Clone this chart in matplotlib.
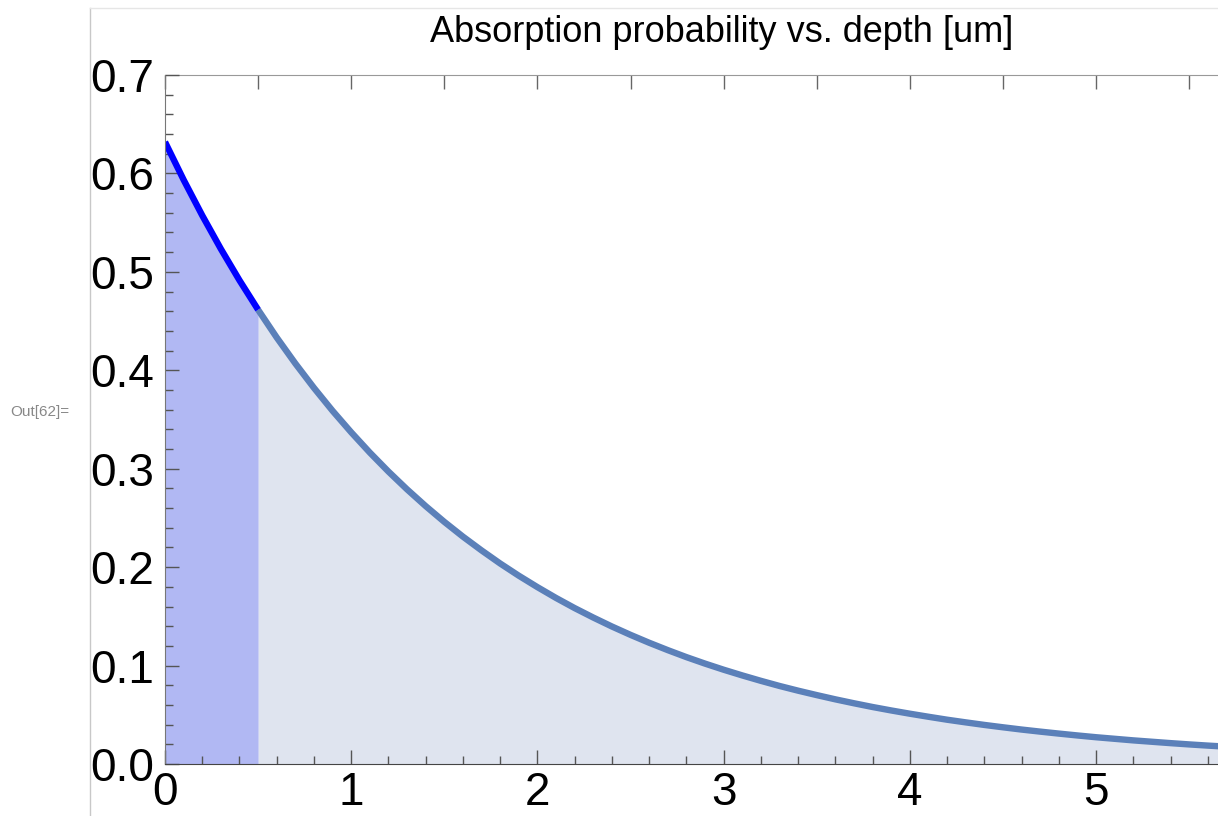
import matplotlib
matplotlib.use("Agg")
import matplotlib.pyplot as plt
import numpy as np
from matplotlib.lines import Line2D
from matplotlib.ticker import MultipleLocator

plt.rcParams["font.family"] = ["Liberation Sans", "DejaVu Sans"]

# values (depth in um, absorption probability)
depth = [0.0, 0.1, 0.2, 0.3, 0.4, 0.5, 0.6, 0.7, 0.8, 0.9,
         1.0, 1.1, 1.2, 1.3, 1.4, 1.5, 1.6, 1.7, 1.8, 1.9,
         2.0, 2.1, 2.2, 2.3, 2.4, 2.5, 2.6, 2.7, 2.8, 2.9,
         3.0, 3.1, 3.2, 3.3, 3.4, 3.5, 3.6, 3.7, 3.8, 3.9,
         4.0, 4.1, 4.2, 4.3, 4.4, 4.5, 4.6, 4.7, 4.8, 4.9,
         5.0, 5.1, 5.2, 5.3, 5.4, 5.5, 5.6, 5.7]
prob = [0.6320, 0.5935, 0.5573, 0.5233, 0.4914, 0.4615, 0.4333, 0.4069,
        0.3821, 0.3588, 0.3370, 0.3164, 0.2971, 0.2790, 0.2620, 0.2460,
        0.2310, 0.2170, 0.2037, 0.1913, 0.1797, 0.1687, 0.1584, 0.1488,
        0.1397, 0.1312, 0.1232, 0.1157, 0.1086, 0.1020, 0.0958, 0.0900,
        0.0845, 0.0793, 0.0745, 0.0700, 0.0657, 0.0617, 0.0579, 0.0544,
        0.0511, 0.0480, 0.0450, 0.0423, 0.0397, 0.0373, 0.0350, 0.0329,
        0.0309, 0.0290, 0.0272, 0.0256, 0.0240, 0.0226, 0.0212, 0.0199,
        0.0187, 0.0176]
cut_depth = 0.5
title = "Absorption probability vs. depth [um]"

W, H = 1218, 816
x = np.asarray(depth)
y = np.asarray(prob)
near = x <= cut_depth
far = x >= cut_depth

fig = plt.figure(figsize=(W / 100, H / 100), dpi=100)
ax = fig.add_axes([165 / W, 1 - 764 / H, (W - 165) / W, (764 - 75) / H])

ax.fill_between(x[far], 0, y[far], color="#dfe4ef", lw=0)
ax.fill_between(x[near], 0, y[near], color="#b1b8f3", lw=0)
ax.plot(x[far], y[far], color="#5b80b9", lw=4.6, solid_capstyle="butt",
        solid_joinstyle="round")
ax.plot(x[near], y[near], color="#0000ff", lw=4.6, solid_capstyle="butt",
        solid_joinstyle="round")

ax.set_xlim(0, 5.655)
ax.set_ylim(0, 0.7)
ax.xaxis.set_major_locator(MultipleLocator(1))
ax.xaxis.set_minor_locator(MultipleLocator(0.2))
ax.yaxis.set_major_locator(MultipleLocator(0.1))
ax.yaxis.set_minor_locator(MultipleLocator(0.02))
ax.xaxis.set_major_formatter(lambda v, p: f"{v:.0f}")
ax.yaxis.set_major_formatter(lambda v, p: f"{v:.1f}")

ax.tick_params(which="both", direction="in", labelsize=33, colors="#555555",
               labelcolor="black", width=1)
ax.tick_params(which="major", length=10)
ax.tick_params(which="minor", length=6)
ax.tick_params(axis="y", pad=8)
ax.tick_params(axis="x", pad=5)
ax.spines["right"].set_visible(False)
ax.spines["top"].set_visible(False)
ax.spines["left"].set_color("#777777")
ax.spines["bottom"].set_color("#444444")

top = ax.secondary_xaxis("top")
top.xaxis.set_major_locator(MultipleLocator(0.5))
top.tick_params(direction="in", length=10, width=1, colors="#666666",
                labeltop=False)
top.spines["top"].set_color("#999999")

fig.text(722 / W, 1 - 33 / H, title, ha="center", va="center", fontsize=26)
fig.text(10 / W, 1 - 412 / H, "Out[62]=", ha="left", va="center",
         fontsize=11, color="#888888")

fig.add_artist(Line2D([90 / W, 90 / W], [0, 1 - 8 / H],
                      transform=fig.transFigure, color="#c8c8c8", lw=1))
fig.add_artist(Line2D([90 / W, 1], [1 - 8 / H, 1 - 8 / H],
                      transform=fig.transFigure, color="#e6e6e6", lw=1))

fig.savefig("out.png", dpi=100)
